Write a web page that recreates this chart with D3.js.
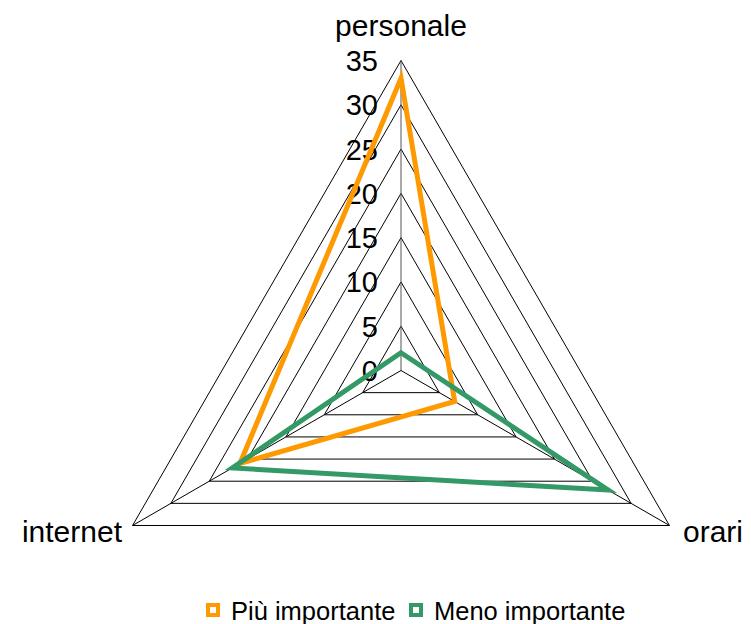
<!DOCTYPE html>
<html>
<head>
<meta charset="utf-8">
<script src="https://cdn.jsdelivr.net/npm/d3@7"></script>
<style>
  body { margin: 0; background: #fff; }
  svg { display: block; font-family: "Liberation Sans", Arial, sans-serif; }
</style>
</head>
<body>
<svg id="chart" width="751" height="624"></svg>
<script>
// Axes of the radar, clockwise from the top
const categories = ["personale", "orari", "internet"];
// Series values per axis
const piuImportante = [33, 7, 21];
const menoImportante = [2, 27, 22];
const seriesNames = ["Più importante", "Meno importante"];
const seriesColors = ["#FF9900", "#339966"];
// Radial ticks
const tickValues = [0, 5, 10, 15, 20, 25, 30, 35];

const svg = d3.select("#chart");
const cx = 401, cy = 370.5, R = 310;

const r = d3.scaleLinear().domain([0, 35]).range([0, R]);
const angle = d3.scaleBand().domain(categories).range([0, 2 * Math.PI]).align(0).paddingInner(0).paddingOuter(0);

function pt(cat, v) {
  const a = angle(cat) - Math.PI / 2;
  return [cx + r(v) * Math.cos(a), cy + r(v) * Math.sin(a)];
}

const g = svg.append("g");

// Concentric grid polygons
tickValues.filter(t => t > 0).forEach(t => {
  g.append("path")
    .attr("d", d3.line()(categories.map(c => pt(c, t))) + "Z")
    .attr("fill", "none")
    .attr("stroke", "#000")
    .attr("stroke-width", 1);
});

// Spokes
categories.forEach(c => {
  const [x, y] = pt(c, 35);
  g.append("line")
    .attr("x1", cx).attr("y1", cy).attr("x2", x).attr("y2", y)
    .attr("stroke", c === "personale" ? "#555" : "#000")
    .attr("stroke-width", 1);
});

// Tick labels along the vertical axis
g.selectAll("text.tick").data(tickValues).join("text")
  .attr("class", "tick")
  .attr("x", 378)
  .attr("y", d => cy - r(d))
  .attr("dy", "0.36em")
  .attr("text-anchor", "end")
  .attr("font-size", 29)
  .attr("fill", "#000")
  .text(d => d);

// Series outlines
[piuImportante, menoImportante].forEach((vals, i) => {
  g.append("path")
    .attr("d", d3.line()(categories.map((c, k) => pt(c, vals[k]))) + "Z")
    .attr("fill", "none")
    .attr("stroke", seriesColors[i])
    .attr("stroke-width", 5)
    .attr("stroke-linejoin", "miter");
});

// Axis labels
g.append("text").attr("x", 401).attr("y", 36).attr("text-anchor", "middle")
  .attr("font-size", 30).text(categories[0]);
g.append("text").attr("x", 683).attr("y", 542).attr("text-anchor", "start")
  .attr("font-size", 30).text(categories[1]);
g.append("text").attr("x", 122).attr("y", 542).attr("text-anchor", "end")
  .attr("font-size", 30).text(categories[2]);

// Legend
const legend = svg.append("g");
const legendX = [206, 409];
seriesNames.forEach((name, i) => {
  const lx = legendX[i];
  legend.append("rect")
    .attr("x", lx + 2).attr("y", 605).attr("width", 10).attr("height", 10)
    .attr("fill", "#fff").attr("stroke", seriesColors[i]).attr("stroke-width", 4);
  legend.append("text")
    .attr("x", lx + 25).attr("y", 620)
    .attr("font-size", 25.5).attr("fill", "#000")
    .text(name);
});
</script>
</body>
</html>
